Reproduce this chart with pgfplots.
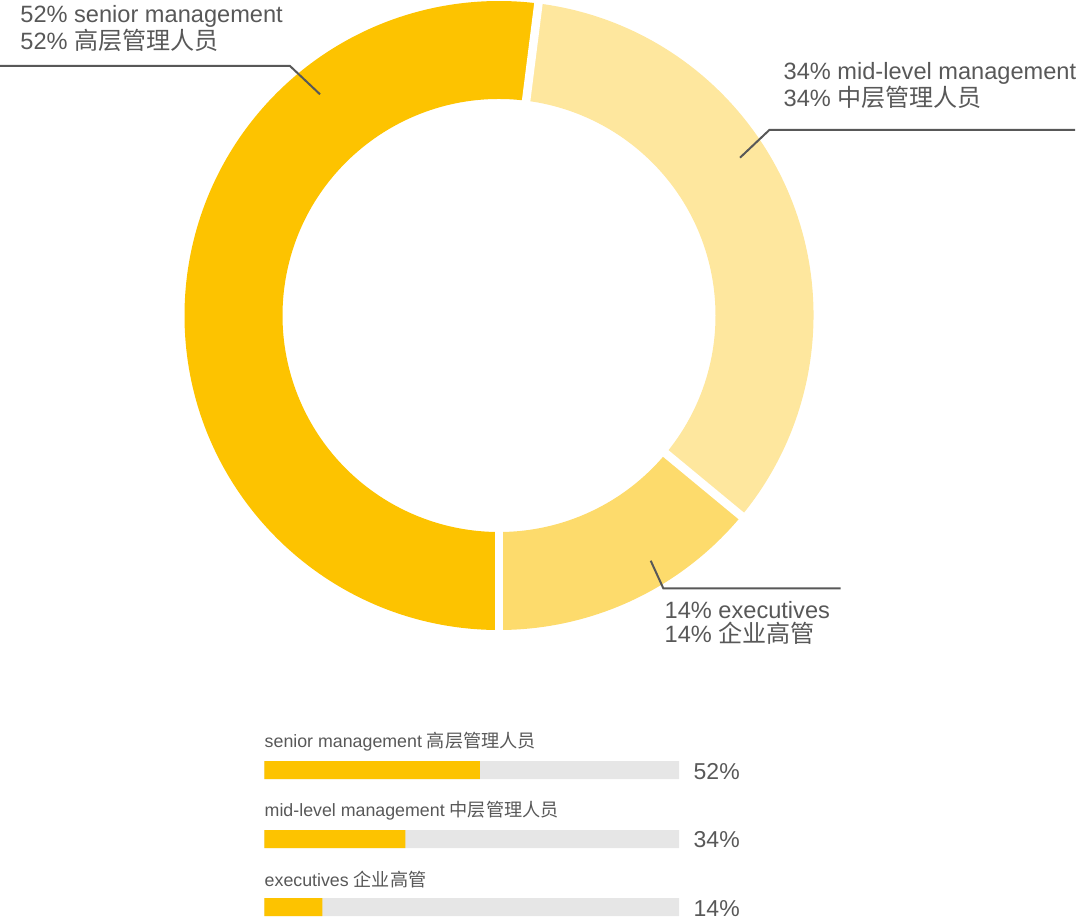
\documentclass[border=0pt]{standalone}
\usepackage{fontspec}
\setmainfont{Liberation Sans}
\newfontfamily\cjk{Noto Sans CJK SC}[Scale=1.02]
\usepackage{pgfplots}
\pgfplotsset{compat=1.18}
\definecolor{cSen}{HTML}{FDC300}
\definecolor{cMid}{HTML}{FEE79E}
\definecolor{cExe}{HTML}{FDDB6C}
\definecolor{cTxt}{HTML}{585858}
\definecolor{cBg}{HTML}{E6E6E6}
% data (percent)
\def\vSen{52}\def\vMid{34}\def\vExe{14}
\pgfmathsetmacro\aA{270}
\pgfmathsetmacro\aB{\aA-3.6*\vSen}
\pgfmathsetmacro\aC{\aB-3.6*\vMid}
\pgfmathsetmacro\aD{\aC-3.6*\vExe}
\def\Ro{157.25pt}\def\Ri{108.25pt}
\newcommand\seg[3]{%
 \fill[#1] (axis cs:499,601.5) ++(#2:\Ro) arc[start angle=#2, end angle=#3, radius=\Ro]
   -- ++({#3+180}:49pt) arc[start angle=#3, end angle=#2, radius=\Ri] -- cycle;}
\newcommand\gap[1]{%
 \draw[white, line width=4.25pt] (axis cs:499,601.5) ++(#1:100pt) -- ++(#1:66pt);}
\begin{document}
\begin{tikzpicture}
\begin{axis}[name=donut, scale only axis, width=540pt, height=458.5pt,
  xmin=0, xmax=1080, ymin=0, ymax=917, hide axis, clip=false]
\seg{cSen}{\aA}{\aB}
\seg{cMid}{\aB}{\aC}
\seg{cExe}{\aC}{\aD}
\gap{\aA}\gap{\aB}\gap{\aC}
% leader lines
\draw[cTxt, line width=1pt] (axis cs:0,851) -- (axis cs:290,851) -- (axis cs:320,822.7);
\draw[cTxt, line width=1pt] (axis cs:740,759.3) -- (axis cs:769.3,787) -- (axis cs:1075,787);
\draw[cTxt, line width=1pt] (axis cs:650.7,356.3) -- (axis cs:663.3,328.7) -- (axis cs:840.7,328.7);
% donut labels
\begin{scope}[every node/.style={anchor=base west, inner sep=0pt, text=cTxt, font=\fontsize{11.8pt}{13pt}\selectfont}]
\node at (axis cs:20,894.3) {52\% senior management};
\node at (axis cs:20,867.7) {52\% {\cjk 高层管理人员}};
\node at (axis cs:783.3,837) {34\% mid-level management};
\node at (axis cs:783.3,810.3) {34\% {\cjk 中层管理人员}};
\node at (axis cs:664.3,298.7) {14\% executives};
\node at (axis cs:664.3,274.3) {14\% {\cjk 企业高管}};
\end{scope}
% bar labels
\begin{scope}[every node/.style={anchor=base west, inner sep=0pt, text=cTxt, font=\fontsize{8.9pt}{10pt}\selectfont}]
\node at (axis cs:264.3,169.3) {senior management {\cjk 高层管理人员}};
\node at (axis cs:264.3,100.3) {mid-level management {\cjk 中层管理人员}};
\node at (axis cs:264.3,31) {executives {\cjk 企业高管}};
\end{scope}
\begin{scope}[every node/.style={anchor=base west, inner sep=0pt, text=cTxt, font=\fontsize{11.5pt}{12pt}\selectfont}]
\node at (axis cs:693.3,138) {52\%};
\node at (axis cs:693.3,69.3) {34\%};
\node at (axis cs:693.3,1) {14\%};
\end{scope}
\end{axis}
\begin{axis}[at={(132.15pt,0pt)}, anchor=south west, scale only axis,
  width=207.35pt, height=458.5pt, xmin=0, xmax=100, ymin=0, ymax=917,
  hide axis, clip=false]
\addplot[xbar, bar width=9pt, fill=cBg, draw=none] coordinates {(100,147) (100,78) (100,10)};
\addplot[xbar, bar width=9pt, fill=cSen, draw=none] coordinates {(52,147) (34,78) (14,10)};
\end{axis}
\pgfresetboundingbox
\useasboundingbox (0,0) rectangle (540pt,458.5pt);
\end{tikzpicture}
\end{document}
